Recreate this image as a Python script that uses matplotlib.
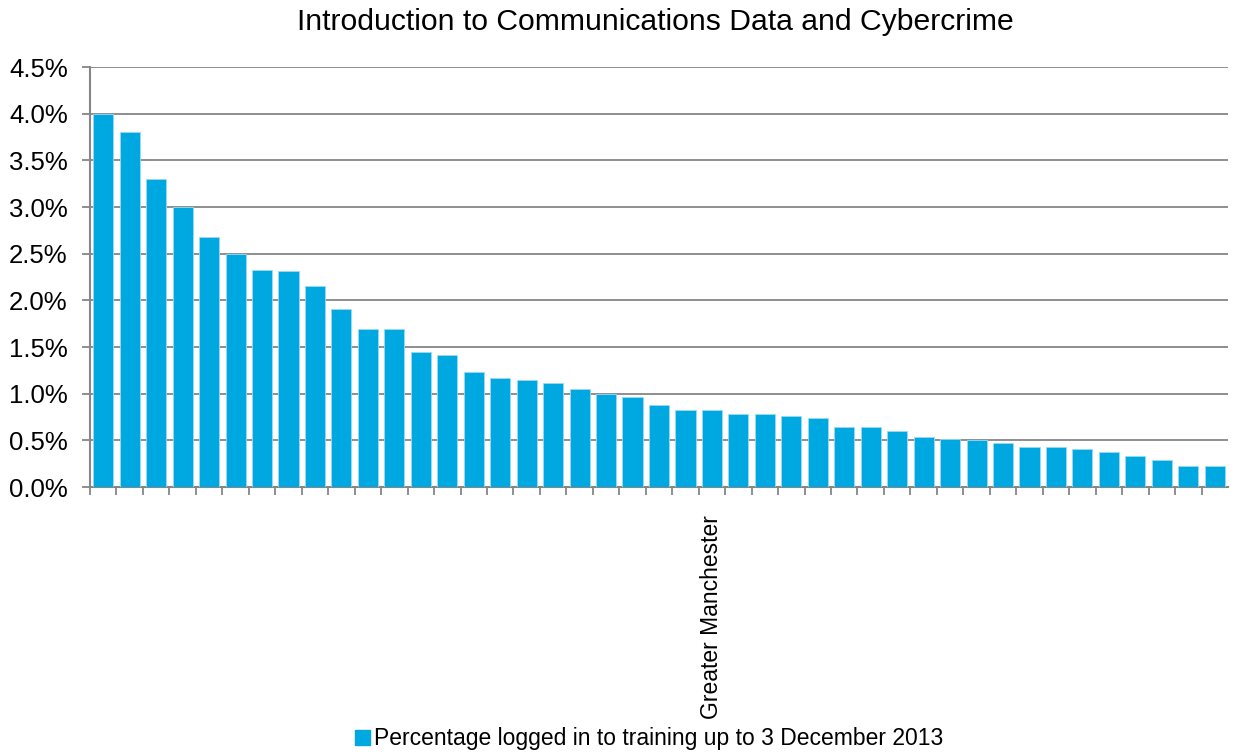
import matplotlib
matplotlib.use("Agg")
import matplotlib.pyplot as plt
from matplotlib.patches import Patch
from matplotlib.ticker import FuncFormatter, MultipleLocator

values = [4.00, 3.80, 3.30, 3.00, 2.68, 2.50, 2.33, 2.31, 2.15, 1.91,
          1.69, 1.69, 1.45, 1.41, 1.23, 1.17, 1.15, 1.11, 1.05, 1.00,
          0.96, 0.88, 0.82, 0.82, 0.78, 0.78, 0.76, 0.74, 0.64, 0.64,
          0.60, 0.54, 0.51, 0.50, 0.47, 0.43, 0.43, 0.41, 0.37, 0.33,
          0.29, 0.23, 0.23]
labels = [""] * len(values)
labels[23] = "Greater Manchester"
title = "Introduction to Communications Data and Cybercrime"
legend_label = "Percentage logged in to training up to 3 December 2013"

plt.rcParams['font.family'] = ['Liberation Sans', 'DejaVu Sans']

fig = plt.figure(figsize=(12.39, 7.55), dpi=100)
ax = fig.add_axes([90/1239, 1-487/755, (1228-90)/1239, (487-67)/755])

color = "#00A8E2"
x = list(range(len(values)))
ax.bar(x, values, width=0.76, color=color, edgecolor="#9ADAF2", linewidth=0.6, zorder=3)

ax.set_xlim(-0.5, len(values) - 0.5)
ax.set_ylim(0, 4.5)
ax.yaxis.set_major_locator(MultipleLocator(0.5))
ax.yaxis.set_major_formatter(FuncFormatter(lambda v, p: f"{v:.1f}%"))
ax.grid(axis="y", color="#868686", linewidth=1.3, zorder=0)

ax.set_xticks([i + 0.5 for i in x[:-1]] + [-0.5], minor=False)
ax.set_xticklabels([""] * len(values))
ax.set_xticks(x, minor=True)
ax.set_xticklabels(labels, minor=True, rotation=90, fontsize=16.5)
ax.tick_params(axis="x", which="minor", length=0, pad=20)
ax.tick_params(axis="x", which="major", length=6, width=1.3, color="#868686")
ax.tick_params(axis="y", length=6, width=1.3, color="#868686", labelsize=18.5, pad=10)

for s in ["top", "right"]:
    ax.spines[s].set_visible(False)
for s in ["left", "bottom"]:
    ax.spines[s].set_color("#868686")
    ax.spines[s].set_linewidth(1.5)

fig.text(655/1239, 1 - 22/755, title, ha="center", va="center", fontsize=21.7)
fig.legend(handles=[Patch(color=color, label=legend_label)], loc="center",
           bbox_to_anchor=(0.524, 1 - 739/755), frameon=False, fontsize=16.5,
           handlelength=0.65, handleheight=0.65, handletextpad=0.15, borderpad=0)

fig.savefig("out.png", dpi=100)
